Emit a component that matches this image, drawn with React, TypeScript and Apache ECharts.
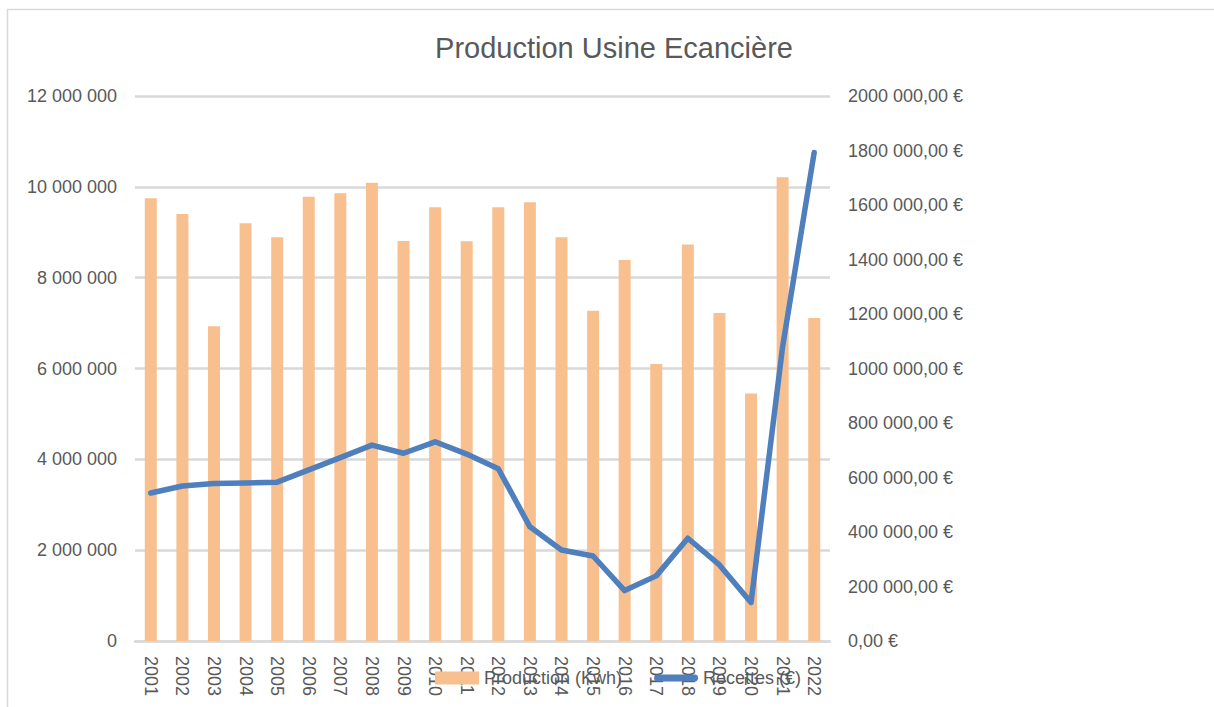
import React, { useEffect, useRef } from "react";
import * as echarts from "echarts";

const years = ["2001","2002","2003","2004","2005","2006","2007","2008","2009","2010","2011","2012","2013","2014","2015","2016","2017","2018","2019","2020","2021","2022"];
const production = [9750000, 9400000, 6930000, 9200000, 8890000, 9780000, 9860000, 10090000, 8810000, 9550000, 8800000, 9550000, 9660000, 8890000, 7270000, 8390000, 6100000, 8730000, 7220000, 5450000, 10210000, 7110000];
const recettes = [543000, 569000, 578000, 580000, 583000, 628000, 673000, 719000, 689000, 731000, 686000, 632000, 419000, 334000, 312000, 185000, 239000, 377000, 279000, 141000, 1080000, 1793000];
const leftTickLabels = ["0", "2 000 000", "4 000 000", "6 000 000", "8 000 000", "10 000 000", "12 000 000"];
const rightTickLabels = ["0,00 €", "200 000,00 €", "400 000,00 €", "600 000,00 €", "800 000,00 €", "1000 000,00 €", "1200 000,00 €", "1400 000,00 €", "1600 000,00 €", "1800 000,00 €", "2000 000,00 €"];
const titleText = "Production Usine Ecancière";
const seriesNames = ["Production (Kwh)", "Recettes (€)"];

const FONT = "'Liberation Sans', Arial, sans-serif";
const TXT = "#595959";
const BLUE = "#4F7FBC";

export default function App() {
  const ref = useRef<HTMLDivElement>(null);
  useEffect(() => {
    const chart = echarts.init(ref.current!, null, { renderer: "svg" });
    chart.setOption({
      animation: false,
      textStyle: { fontFamily: FONT },
      title: {
        text: titleText,
        left: 609,
        textAlign: "center",
        top: 28,
        textStyle: { fontSize: 29, fontWeight: "normal", color: TXT, fontFamily: FONT },
      },
      graphic: [
        {
          type: "polyline",
          shape: { points: [[7.5, 707], [7.5, 9.5], [1214, 9.5]] },
          style: { stroke: "#D9D9D9", lineWidth: 1.5, fill: "none" },
          silent: true,
        },
      ],
      legend: {
        left: 430,
        top: 664,
        itemWidth: 44,
        itemHeight: 13,
        itemGap: 32,
        textStyle: { fontSize: 18, color: TXT, fontFamily: FONT },
        data: [
          { name: seriesNames[0], icon: "rect" },
          {
            name: seriesNames[1],
            icon: "path://M4,0 L48,0 A4,4 0 0 1 48,8 L4,8 A4,4 0 0 1 4,0 Z",
            itemStyle: { color: BLUE },
          },
        ],
      },
      grid: { left: 135, right: 384, top: 96, bottom: 66, containLabel: false },
      xAxis: {
        type: "category",
        data: years,
        axisTick: { show: false },
        axisLine: { lineStyle: { color: "#D9D9D9", width: 2.5 } },
        axisLabel: { rotate: -90, fontSize: 18, color: TXT, margin: 15, fontFamily: FONT },
      },
      yAxis: [
        {
          type: "value",
          min: 0,
          max: 12000000,
          interval: 2000000,
          axisLine: { show: false },
          axisTick: { show: false },
          splitLine: { lineStyle: { color: "#D9D9D9", width: 2.5 } },
          axisLabel: {
            fontSize: 18,
            color: TXT,
            margin: 18,
            fontFamily: FONT,
            formatter: (_v: number, i: number) => leftTickLabels[i],
          },
        },
        {
          type: "value",
          min: 0,
          max: 2000000,
          interval: 200000,
          axisLine: { show: false },
          axisTick: { show: false },
          splitLine: { show: false },
          axisLabel: {
            fontSize: 18,
            color: TXT,
            margin: 18,
            fontFamily: FONT,
            formatter: (_v: number, i: number) => rightTickLabels[i],
          },
        },
      ],
      series: [
        {
          name: seriesNames[0],
          type: "bar",
          data: production,
          barWidth: 12,
          itemStyle: { color: "#F9C08F" },
          z: 2,
        },
        {
          name: seriesNames[1],
          type: "line",
          yAxisIndex: 1,
          data: recettes,
          symbol: "none",
          lineStyle: { color: BLUE, width: 5.5, cap: "round", join: "round" },
          itemStyle: { color: BLUE },
          z: 3,
        },
      ],
    });
    return () => chart.dispose();
  }, []);
  return (
    <div
      ref={ref}
      style={{ position: "fixed", left: 0, top: 0, width: 1214, height: 707, background: "#fff" }}
    />
  );
}
